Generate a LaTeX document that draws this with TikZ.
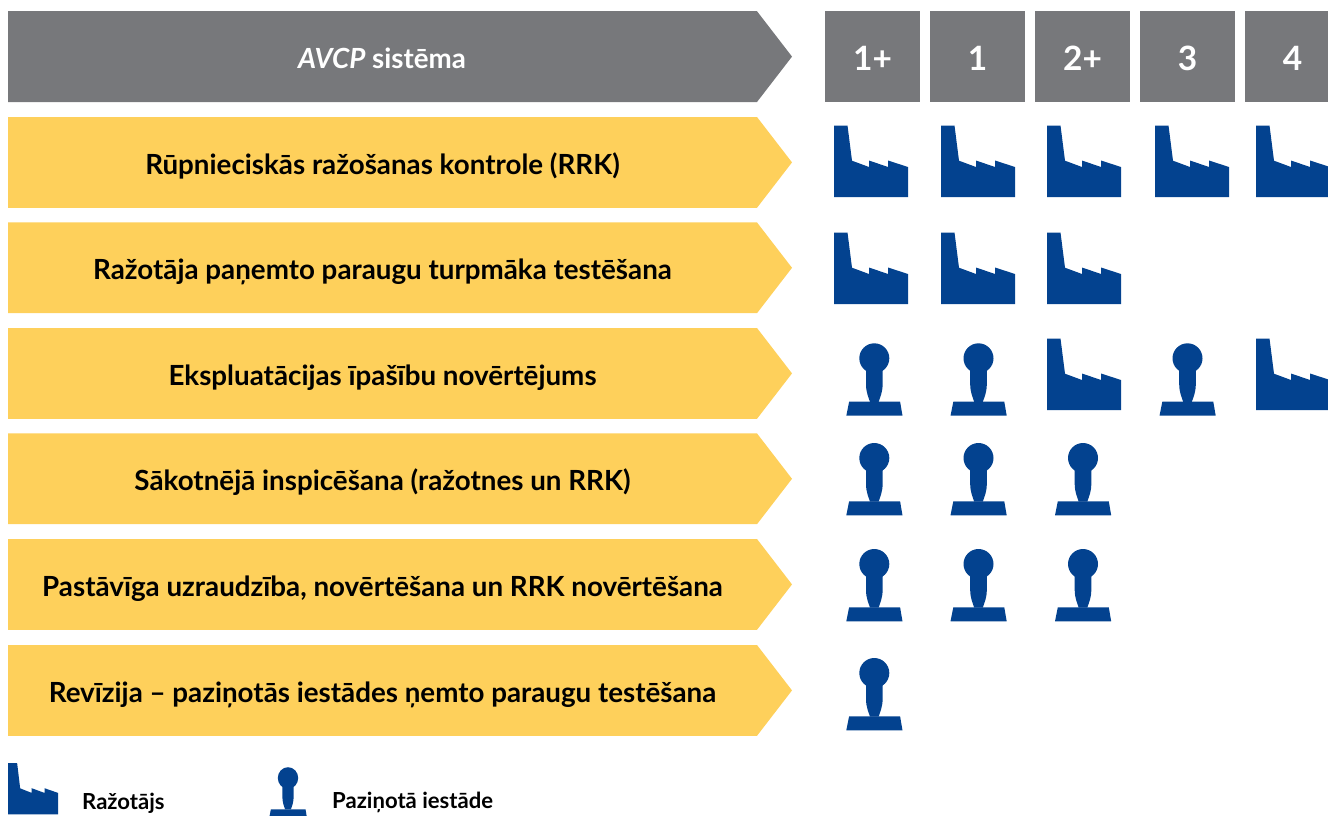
\documentclass[tikz,border=0pt]{standalone}
\usepackage{fontspec}
\setmainfont{Lato}
\definecolor{greyc}{HTML}{77787B}
\definecolor{yellowc}{HTML}{FED05B}
\definecolor{bluec}{HTML}{03428F}
\tikzset{
  x=1pt,y=-1pt,
  rowlabel/.style={font=\bfseries\fontsize{27.75}{32}\selectfont,text=black,anchor=base,inner sep=0pt},
  headlabel/.style={font=\bfseries\fontsize{33.5}{38}\selectfont,text=white,anchor=base,inner sep=0pt},
  legendlabel/.style={font=\bfseries\fontsize{22.1}{26}\selectfont,text=black,anchor=base west,inner sep=0pt},
  factory/.pic={\fill[bluec] (0,0) -- (13.5,0) -- (18,35.2) -- (35,41.5) -- (35,35) -- (54,41.5) -- (54,35) -- (74,41.5) -- (74,71.5) -- (0,71.5) -- cycle;},
  stamp/.pic={\fill[bluec] (0,0) circle[radius=15];
    \fill[bluec] (-8.3,8) -- (-8.3,26) .. controls (-8.3,34) and (-5.8,39) .. (-4.3,43.6) -- (4.3,43.6) .. controls (5.8,39) and (8.3,34) .. (8.3,26) -- (8.3,8) -- cycle;
    \fill[bluec] (-25.2,43.4) -- (25.8,43.4) -- (28.2,57.4) -- (-28,57.4) -- cycle;},
}
\newcommand{\rowarrow}[2]{\fill[#2] (8,#1) -- (757,#1) -- (792,#1+45.4) -- (757,#1+90.8) -- (8,#1+90.8) -- cycle;}
\begin{document}
\begin{tikzpicture}
\useasboundingbox (0,0) rectangle (1328,815);
\clip (0,0) rectangle (1328,815);
\rowarrow{11.2}{greyc}
\rowarrow{117}{yellowc}
\rowarrow{222.4}{yellowc}
\rowarrow{328}{yellowc}
\rowarrow{433.4}{yellowc}
\rowarrow{539}{yellowc}
\rowarrow{645}{yellowc}
\node[font=\fontsize{27.75}{32}\selectfont\bfseries,text=white,inner sep=0pt,anchor=base] (head) at (382,68.7) {\textit{AVCP} sistēma};
\foreach \xx/\lab/\nm in {825/1+/a,930/1/b,1035/2+/c,1140/3/d,1245/4/e}{
  \fill[greyc] (\xx,11.2) rectangle ++(95,90.8);
  \node[headlabel] (h\nm) at (\xx+47.5,70.5) {\lab};
}
\node[rowlabel] (r1) at (382.5,174) {Rūpnieciskās ražošanas kontrole (RRK)};
\node[rowlabel] (r2) at (382.5,279.5) {Ražotāja paņemto paraugu turpmāka testēšana};
\node[rowlabel] (r3) at (382.5,385) {Ekspluatācijas īpašību novērtējums};
\node[rowlabel] (r4) at (382.5,490.5) {Sākotnējā inspicēšana (ražotnes un RRK)};
\node[rowlabel] (r5) at (382.5,596) {Pastāvīga uzraudzība, novērtēšana un RRK novērtēšana};
\node[rowlabel] (r6) at (382.5,702) {Revīzija – paziņotās iestādes ņemto paraugu testēšana};
\foreach \xx in {834,941,1047,1155,1256}{\pic at (\xx,125.5) {factory};}
\foreach \xx in {834,941,1047}{\pic at (\xx,232.5) {factory};}
\foreach \xx in {1047,1256}{\pic at (\xx,338.5) {factory};}
\foreach \xx in {874.3,978.5,1187.5}{\pic at (\xx,358.3) {stamp};}
\foreach \xx in {874.3,978.5,1083}{\pic at (\xx,458) {stamp};}
\foreach \xx in {874.3,978.5,1083}{\pic at (\xx,564) {stamp};}
\pic at (874.3,673) {stamp};
\pic[xscale=0.676,yscale=0.72] at (8,763) {factory};
\pic[xscale=0.68,yscale=0.72] at (288,778) {stamp};
\node[legendlabel] (l1) at (82,809.5) {Ražotājs};
\node[legendlabel] (l2) at (332,808) {Paziņotā iestāde};
\end{tikzpicture}
\end{document}
